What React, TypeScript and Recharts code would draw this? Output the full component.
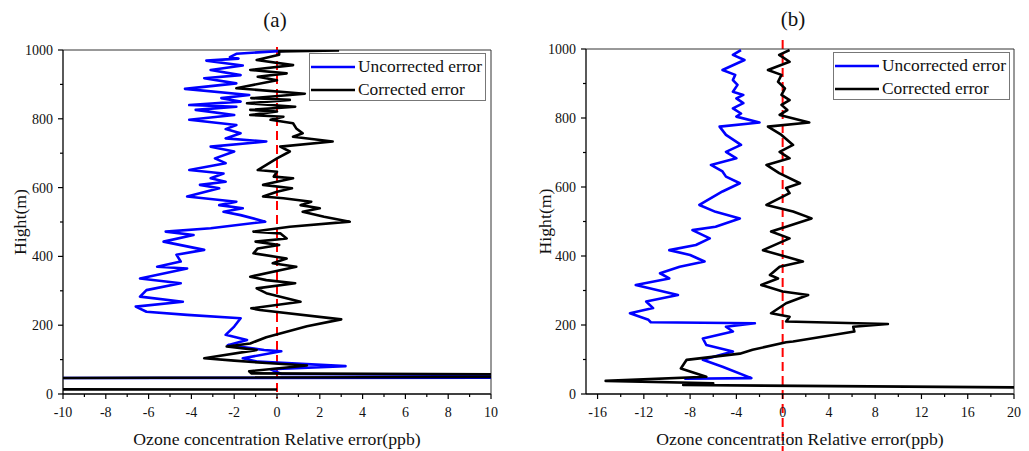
import { ScatterChart, Scatter, XAxis, YAxis, ReferenceLine, Legend } from "recharts";

const FONT = '"Liberation Serif", "Times New Roman", serif';

// shared height axis
const heightTicks = [0, 100, 200, 300, 400, 500, 600, 700, 800, 900, 1000];
const heightLabels = [0, 200, 400, 600, 800, 1000];
const rightTicks = [100, 300, 500, 700, 900];

// panel (a) x axis
const aTicks = [-10, -9, -8, -7, -6, -5, -4, -3, -2, -1, 0, 1, 2, 3, 4, 5, 6, 7, 8, 9, 10];
const aLabels = [-10, -8, -6, -4, -2, 0, 2, 4, 6, 8, 10];
const aTopTicks = [-9, -7, -5, -3, -1, 1, 3, 5, 7, 9];

// panel (b) x axis
const bTicks = [-16, -14, -12, -10, -8, -6, -4, -2, 0, 2, 4, 6, 8, 10, 12, 14, 16, 18, 20];
const bLabels = [-16, -12, -8, -4, 0, 4, 8, 12, 16, 20];
const bTopTicks = [-14, -10, -6, -2, 2, 6, 10, 14, 18];

// [error (ppb), height (m)]
const aUncorrected: [number, number][] = [
  [0.6, 999], [-1.9, 989], [-2.2, 979], [-1.8, 975], [-3.3, 969], [-1.6, 955], [-3.1, 942],
  [-1.7, 927], [-3.4, 918], [-1.9, 903], [-4.3, 887], [-1.3, 869], [-2.6, 860], [-1.7, 850],
  [-4.1, 840], [-1.9, 835], [-3.8, 826], [-2.0, 811], [-4.1, 797], [-1.9, 782], [-2.4, 770],
  [-1.7, 758], [-2.4, 743], [-0.5, 734], [-3.1, 719], [-2.0, 705], [-2.9, 685], [-2.4, 671],
  [-4.1, 651], [-2.5, 641], [-3.1, 627], [-2.4, 617], [-3.6, 608], [-2.7, 598], [-4.2, 574],
  [-1.9, 559], [-2.7, 549], [-1.6, 540], [-2.5, 530], [-1.7, 520], [-0.55, 501], [-3.1, 482],
  [-5.2, 472], [-3.9, 462], [-5.3, 443], [-3.4, 419], [-4.7, 405], [-4.5, 385], [-5.6, 370],
  [-4.2, 365], [-6.4, 336], [-4.5, 322], [-6.1, 302], [-6.4, 283], [-4.4, 268], [-6.6, 254],
  [-6.1, 239], [-4.2, 230], [-1.7, 220], [-2.0, 196], [-2.4, 172], [-1.4, 157], [-2.3, 142],
  [-0.6, 128], [0.2, 124], [-1.6, 104], [-0.9, 94], [3.2, 81], [-0.3, 72], [0.2, 58],
  [30, 49], [-30, 45],
];

const aCorrected: [number, number][] = [
  [2.9, 999], [0.1, 996], [0.1, 986], [-0.95, 971], [0.75, 956], [-1.25, 942], [0.45, 932],
  [-0.9, 922], [0.0, 912], [-1.9, 889], [1.3, 873], [-1.2, 860], [0.6, 855], [-1.4, 845],
  [0.85, 835], [-1.25, 826], [0.0, 821], [-1.25, 811], [0.3, 806], [-0.3, 797], [0.75, 787],
  [0.9, 772], [1.2, 758], [0.75, 748], [2.6, 734], [0.15, 719], [0.6, 705], [0.0, 685],
  [-0.9, 651], [0.0, 646], [-0.15, 632], [0.75, 627], [-0.65, 608], [0.7, 598], [0.0, 588],
  [-0.65, 574], [0.3, 569], [1.6, 559], [1.1, 549], [2.0, 540], [1.2, 530], [2.2, 515],
  [3.4, 501], [0.6, 486], [-1.1, 472], [0.15, 467], [0.45, 452], [-1.0, 443], [0.1, 433],
  [-0.9, 423], [-1.1, 409], [0.45, 394], [-0.2, 380], [0.9, 370], [-1.25, 341], [-0.5, 331],
  [0.85, 322], [-0.95, 307], [-0.5, 293], [1.1, 268], [-1.2, 249], [-0.8, 244], [3.0, 217],
  [1.4, 197], [-0.5, 165], [-1.25, 147], [-2.35, 138], [-0.95, 128], [-3.4, 104], [-2.0, 97],
  [-0.5, 90], [1.4, 83], [-1.3, 66], [-1.2, 60], [30, 52], [-30, 44], [-30, 14], [0, 13],
];

const bUncorrected: [number, number][] = [
  [-3.6, 997], [-4.3, 983], [-3.3, 968], [-5.2, 939], [-4.1, 925], [-4.3, 910], [-3.9, 896],
  [-4.3, 876], [-3.4, 867], [-4.0, 857], [-3.4, 843], [-4.3, 828], [-3.6, 813], [-4.0, 804],
  [-2.0, 787], [-5.45, 775], [-4.9, 751], [-3.6, 722], [-4.9, 702], [-4.0, 683], [-6.2, 664],
  [-5.2, 645], [-4.9, 630], [-3.7, 611], [-5.2, 587], [-7.2, 548], [-5.8, 528], [-3.7, 509],
  [-5.8, 485], [-7.8, 475], [-6.3, 451], [-7.5, 432], [-9.8, 417], [-8.0, 403], [-6.75, 384],
  [-8.9, 369], [-10.6, 350], [-9.8, 335], [-12.7, 316], [-9.05, 287], [-11.8, 268], [-11.2, 249],
  [-13.2, 234], [-11.6, 215], [-11.4, 208], [-2.4, 205], [-4.9, 195], [-4.3, 181], [-6.9, 161],
  [-6.6, 142], [-4.3, 123], [-6.9, 99], [-5.2, 79], [-2.7, 46], [-8.5, 44],
];

const bCorrected: [number, number][] = [
  [0.6, 997], [-0.3, 983], [0.6, 963], [-1.27, 939], [-0.1, 925], [-0.4, 905], [0.2, 886],
  [-0.1, 867], [0.6, 852], [-0.1, 838], [0.4, 823], [-0.26, 809], [2.3, 787], [-1.27, 775],
  [-0.1, 751], [0.9, 722], [-0.26, 702], [0.6, 683], [-1.4, 664], [-0.3, 640], [1.5, 611],
  [0.3, 597], [0.6, 582], [-1.4, 548], [0.9, 529], [2.5, 509], [0.3, 485], [-1.0, 471],
  [0.6, 451], [-1.7, 417], [1.75, 384], [-0.26, 369], [-1.1, 345], [-0.4, 335], [-1.85, 316],
  [0.0, 297], [2.2, 287], [0.3, 263], [-1.0, 234], [0.6, 224], [0.3, 210], [9.1, 203],
  [6.1, 195], [6.2, 181], [0.9, 152], [0.3, 150], [-2.6, 128], [-3.7, 117], [-8.3, 99],
  [-8.8, 74], [-6.6, 50], [-15.3, 38], [-6.0, 31], [-8.6, 26], [30, 17],
];

const seriesNames = ["Uncorrected error", "Corrected error"];
const seriesColors = ["#0000ff", "#000000"];

const toPoints = (s: [number, number][]) => s.map(([x, y]) => ({ x, y }));
const noShape = () => <g />;

const bottomTick = (labels: number[]) => (props: any) => {
  const { x, y, payload } = props;
  const major = labels.includes(payload.value);
  return (
    <g>
      <line x1={x} x2={x} y1={y} y2={y + (major ? 5 : 3)} stroke="#000" strokeWidth={1.2} />
      {major && (
        <text x={x} y={y + 23} textAnchor="middle" fontSize={14} fill="#111" fontFamily={FONT}>
          {payload.value}
        </text>
      )}
    </g>
  );
};

const leftTick = (props: any) => {
  const { x, y, payload } = props;
  const major = heightLabels.includes(payload.value);
  return (
    <g>
      <line x1={x - (major ? 5 : 3)} x2={x} y1={y} y2={y} stroke="#000" strokeWidth={1.2} />
      {major && (
        <text x={x - 10} y={y + 5} textAnchor="end" fontSize={14} fill="#111" fontFamily={FONT}>
          {payload.value}
        </text>
      )}
    </g>
  );
};

function LegendBox() {
  return (
    <div
      style={{
        border: "1px solid #777",
        background: "#fff",
        width: 175,
        height: 45,
        paddingTop: 1,
        boxSizing: "content-box",
        fontFamily: FONT,
        fontSize: 17.4,
        color: "#111",
      }}
    >
      {seriesNames.map((name, i) => (
        <div key={name} style={{ display: "flex", alignItems: "center", height: 23, whiteSpace: "nowrap" }}>
          <svg width={45} height={4} style={{ marginLeft: 1, flex: "none" }}>
            <line x1={0} x2={44} y1={2} y2={2} stroke={seriesColors[i]} strokeWidth={2.6} />
          </svg>
          <span style={{ marginLeft: 2 }}>{name}</span>
        </div>
      ))}
    </div>
  );
}

type PanelProps = {
  width: number;
  margin: { top: number; right: number; bottom: number; left: number };
  title: string;
  titleShift: number;
  xDomain: [number, number];
  xTicks: number[];
  xLabels: number[];
  topTicks: number[];
  uncorrected: [number, number][];
  corrected: [number, number][];
  redExtend: [number, number];
  legendPos: { left: number; top: number };
  yLabelShift: number;
};

function Panel(p: PanelProps) {
  return (
    <ScatterChart width={p.width} height={451} margin={p.margin} style={{ fontFamily: FONT }}>
      <XAxis
        xAxisId="b"
        type="number"
        dataKey="x"
        domain={p.xDomain}
        allowDataOverflow
        ticks={p.xTicks}
        interval={0}
        tickSize={0}
        tickMargin={0}
        tickLine={false}
        tick={bottomTick(p.xLabels)}
        axisLine={{ stroke: "#000", strokeWidth: 1.3 }}
        height={57}
        label={{
          content: (lp: any) => {
            const vb = lp.viewBox;
            return (
              <text x={vb.x + vb.width / 2} y={vb.y + 51} textAnchor="middle" fontSize={17.7} fill="#111" fontFamily={FONT}>
                Ozone concentration Relative error(ppb)
              </text>
            );
          },
        }}
      />
      <XAxis
        xAxisId="t"
        orientation="top"
        type="number"
        domain={p.xDomain}
        allowDataOverflow
        ticks={p.topTicks}
        interval={0}
        tickSize={-5}
        tick={false}
        height={1}
        stroke="#333"
        label={{
          content: (lp: any) => {
            const vb = lp.viewBox;
            return (
              <text x={vb.x + vb.width / 2 + p.titleShift} y={vb.y + vb.height - 23} textAnchor="middle" fontSize={21} fill="#111" fontFamily={FONT}>
                {p.title}
              </text>
            );
          },
        }}
      />
      <YAxis
        yAxisId="l"
        type="number"
        dataKey="y"
        domain={[0, 1000]}
        allowDataOverflow
        ticks={heightTicks}
        interval={0}
        tickSize={0}
        tickMargin={0}
        tickLine={false}
        tick={leftTick}
        axisLine={{ stroke: "#000", strokeWidth: 1.3 }}
        width={50}
        label={{
          content: (lp: any) => {
            const vb = lp.viewBox;
            const cx = vb.x + p.yLabelShift;
            const cy = vb.y + vb.height / 2;
            return (
              <text x={cx} y={cy} transform={`rotate(-90, ${cx}, ${cy})`} textAnchor="middle" dominantBaseline="central" fontSize={17.7} fill="#111" fontFamily={FONT}>
                Hight(m)
              </text>
            );
          },
        }}
      />
      <YAxis
        yAxisId="r"
        orientation="right"
        type="number"
        domain={[0, 1000]}
        allowDataOverflow
        ticks={rightTicks}
        interval={0}
        tickSize={-5}
        tick={false}
        width={1}
        stroke="#333"
      />
      <Scatter
        xAxisId="b"
        yAxisId="l"
        name={seriesNames[0]}
        data={toPoints(p.uncorrected)}
        fill={seriesColors[0]}
        line={{ stroke: seriesColors[0], strokeWidth: 2.6, strokeLinejoin: "round" }}
        shape={noShape}
        isAnimationActive={false}
      />
      <Scatter
        xAxisId="b"
        yAxisId="l"
        name={seriesNames[1]}
        data={toPoints(p.corrected)}
        fill={seriesColors[1]}
        line={{ stroke: seriesColors[1], strokeWidth: 2.6, strokeLinejoin: "round" }}
        shape={noShape}
        isAnimationActive={false}
      />
      <ReferenceLine
        xAxisId="b"
        yAxisId="l"
        x={0}
        shape={(lp: any) => (
          <line
            x1={lp.x1}
            x2={lp.x2}
            y1={Math.min(lp.y1, lp.y2) - p.redExtend[0]}
            y2={Math.max(lp.y1, lp.y2) + p.redExtend[1]}
            stroke="#ff0000"
            strokeWidth={2}
            strokeDasharray="9 5"
          />
        )}
      />
      <Legend
        layout="vertical"
        align="center"
        verticalAlign="middle"
        wrapperStyle={{ left: p.legendPos.left, top: p.legendPos.top }}
        content={() => <LegendBox />}
      />
    </ScatterChart>
  );
}

export default function App() {
  return (
    <div style={{ position: "absolute", left: 0, top: 0, width: 1029, height: 451, background: "#fff" }}>
      <div style={{ position: "absolute", left: 0, top: 0 }}>
        <Panel
          width={520}
          margin={{ top: 49, right: 28, bottom: 0, left: 13 }}
          title="(a)"
          titleShift={-2}
          xDomain={[-10, 10]}
          xTicks={aTicks}
          xLabels={aLabels}
          topTicks={aTopTicks}
          uncorrected={aUncorrected}
          corrected={aCorrected}
          redExtend={[3, 4]}
          legendPos={{ left: 309, top: 53 }}
          yLabelShift={7}
        />
      </div>
      <div style={{ position: "absolute", left: 520, top: 0 }}>
        <Panel
          width={509}
          margin={{ top: 48, right: 14, bottom: 0, left: 16 }}
          title="(b)"
          titleShift={-7}
          xDomain={[-17, 20]}
          xTicks={bTicks}
          xLabels={bLabels}
          topTicks={bTopTicks}
          uncorrected={bUncorrected}
          corrected={bCorrected}
          redExtend={[9, 57]}
          legendPos={{ left: 313, top: 52 }}
          yLabelShift={9}
        />
      </div>
    </div>
  );
}
